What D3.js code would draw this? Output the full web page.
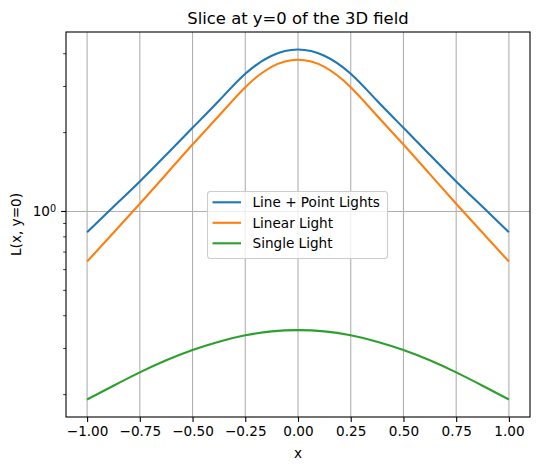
<!DOCTYPE html>
<html lang="en">
<head>
	<meta charset="UTF-8">
	<title>Slice at y=0</title>
	<script src="https://d3js.org/d3.v7.min.js"></script>
	<style>
		body{ margin:0; background:#fff; }
		svg text{ font-family:"DejaVu Sans", sans-serif; fill:#000; }
	</style>
</head>
<body>
	<div id="chart"></div>
	<script>
		// sample positions along x and the three slices
		const xs = [-1, -0.875, -0.75, -0.625, -0.5, -0.375, -0.25, -0.125, 0,
			0.125, 0.25, 0.375, 0.5, 0.625, 0.75, 0.875, 1];
		const linePointLights = [0.834, 1.042, 1.302, 1.646, 2.086, 2.645, 3.354, 3.929, 4.152,
			3.929, 3.354, 2.645, 2.086, 1.646, 1.302, 1.042, 0.834];
		const linearLight = [0.644, 0.829, 1.070, 1.388, 1.802, 2.318, 2.982, 3.565, 3.793,
			3.565, 2.982, 2.318, 1.802, 1.388, 1.070, 0.829, 0.644];
		const singleLight = [0.1916, 0.2163, 0.2432, 0.2704, 0.2960, 0.3185, 0.3368, 0.3488, 0.3524,
			0.3488, 0.3368, 0.3185, 0.2960, 0.2704, 0.2432, 0.2163, 0.1916];
		const seriesNames = ["Line + Point Lights", "Linear Light", "Single Light"];
		const colors = ["#1f77b4", "#ff7f0e", "#2ca02c"];
		const xTicks = [-1, -0.75, -0.5, -0.25, 0, 0.25, 0.5, 0.75, 1];
		const yMajor = [1];
		const yMinor = [0.2, 0.3, 0.4, 0.5, 0.6, 0.7, 0.8, 0.9, 2, 3, 4];

		const width = 539, height = 470;
		const margin = {top: 32, right: 9, bottom: 53, left: 66};
		const allSeries = [linePointLights, linearLight, singleLight];

		const svg = d3.select("#chart").append("svg")
			.attr("width", width).attr("height", height);

		// x: data range plus 5% each side, like matplotlib autoscale
		const xExt = d3.extent(xs), xPad = (xExt[1] - xExt[0]) * 0.05;
		const x = d3.scaleLinear()
			.domain([xExt[0] - xPad, xExt[1] + xPad])
			.range([margin.left, width - margin.right]);

		// y: log scale, margin taken in log space
		const lmin = Math.log10(d3.min(allSeries.flat()));
		const lmax = Math.log10(d3.max(allSeries.flat()));
		const lpad = (lmax - lmin) * 0.05;
		const y = d3.scaleLog()
			.domain([Math.pow(10, lmin - lpad), Math.pow(10, lmax + lpad)])
			.range([height - margin.bottom, margin.top]);

		//grid
		const grid = svg.append("g").attr("stroke", "#b0b0b0").attr("stroke-width", 1.1);
		grid.selectAll("line.gx").data(xTicks).enter().append("line")
			.attr("x1", d => x(d)).attr("x2", d => x(d))
			.attr("y1", margin.top).attr("y2", height - margin.bottom);
		grid.selectAll("line.gy").data(yMajor).enter().append("line")
			.attr("x1", margin.left).attr("x2", width - margin.right)
			.attr("y1", d => y(d)).attr("y2", d => y(d));

		//lines
		const line = d3.line()
			.x((d, i) => x(xs[i]))
			.y(d => y(d))
			.curve(d3.curveNatural);
		svg.append("g").selectAll("path").data(allSeries).enter().append("path")
			.attr("d", line)
			.attr("fill", "none")
			.attr("stroke", (d, i) => colors[i])
			.attr("stroke-width", 2.1);

		//axes
		const xAxis = d3.axisBottom(x).tickValues(xTicks)
			.tickFormat(d3.format(".2f")).tickSize(4.9).tickPadding(4.9);
		const gx = svg.append("g")
			.attr("transform", `translate(0,${height - margin.bottom})`)
			.call(xAxis);
		gx.select(".domain").remove();

		const gy = svg.append("g").attr("transform", `translate(${margin.left},0)`);
		gy.selectAll("line.minor").data(yMinor.filter(v => v > y.domain()[0] && v < y.domain()[1]))
			.enter().append("line")
			.attr("x1", -2.8).attr("x2", 0)
			.attr("y1", d => y(d)).attr("y2", d => y(d))
			.attr("stroke", "#000").attr("stroke-width", 0.8);
		gy.selectAll("line.major").data(yMajor).enter().append("line")
			.attr("x1", -4.9).attr("x2", 0)
			.attr("y1", d => y(d)).attr("y2", d => y(d))
			.attr("stroke", "#000").attr("stroke-width", 1.1);
		const yl = gy.selectAll("text.lab").data(yMajor).enter().append("text")
			.attr("x", -9.8).attr("y", d => y(d)).attr("dy", "0.35em")
			.attr("text-anchor", "end").style("font-size", "13.6px");
		yl.append("tspan").text(d => "10");
		yl.append("tspan").text(d => Math.round(Math.log10(d)))
			.attr("dy", "-0.45em").style("font-size", "9.7px");

		gx.selectAll("text").style("font-size", "13.6px").attr("font-family", null);
		gx.selectAll("line").attr("stroke-width", 1.1);

		//frame
		svg.append("rect")
			.attr("x", margin.left).attr("y", margin.top)
			.attr("width", width - margin.left - margin.right)
			.attr("height", height - margin.top - margin.bottom)
			.attr("fill", "none").attr("stroke", "#000").attr("stroke-width", 1.1);

		//titles
		svg.append("text")
			.attr("x", (margin.left + width - margin.right) / 2).attr("y", 24)
			.attr("text-anchor", "middle").style("font-size", "16.4px")
			.text("Slice at y=0 of the 3D field");
		svg.append("text")
			.attr("x", (margin.left + width - margin.right) / 2).attr("y", 458)
			.attr("text-anchor", "middle").style("font-size", "13.6px")
			.text("x");
		svg.append("text")
			.attr("transform", `translate(21,${(margin.top + height - margin.bottom) / 2}) rotate(-90)`)
			.attr("text-anchor", "middle").style("font-size", "13.6px")
			.text("L(x, y=0)");

		//legend
		const legend = svg.append("g").attr("transform", "translate(207.5,191.5)");
		legend.append("rect")
			.attr("width", 180).attr("height", 67).attr("rx", 3)
			.attr("fill", "#fff").attr("fill-opacity", 0.8)
			.attr("stroke", "#cccccc").attr("stroke-width", 1.1);
		const item = legend.selectAll("g.item").data(seriesNames).enter().append("g")
			.attr("transform", (d, i) => `translate(0,${10.8 + i * 20.5})`);
		item.append("line")
			.attr("x1", 5).attr("x2", 33.5)
			.attr("stroke", (d, i) => colors[i]).attr("stroke-width", 2.1);
		item.append("text")
			.attr("x", 45).attr("dy", "0.35em")
			.style("font-size", "13.6px")
			.text(d => d);
	</script>
</body>
</html>
